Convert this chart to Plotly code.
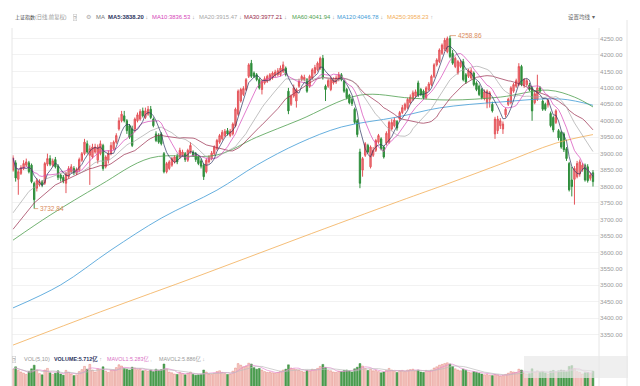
import plotly.graph_objects as go
import pandas as pd

# ---------------- data ----------------
opens = [3850,3872,3822,3840,3855,3865,3872,3865,3810,3795,3805,3815,3810,3868,3885,3865,3882,3862,3835,3828,
         3810,3830,3845,3855,3840,3850,3880,3900,3930,3895,3890,3905,3880,3900,3925,3860,3880,3900,3915,3935,
         3975,4000,4015,4000,3985,3975,3975,4000,4005,4030,4010,4020,4035,4005,3960,3955,3960,3900,3845,3855,
         3865,3875,3892,3890,3895,3900,3880,3905,3905,3900,3890,3878,3865,3845,3875,3885,3900,3915,3935,3945,
         3955,3970,3955,3960,3985,4020,4060,4080,4095,4135,4175,4145,4140,4125,4095,4115,4120,4125,4130,4138,
         4140,4140,4150,4160,4090,4050,4075,4060,4105,4125,4125,4125,4105,4130,4145,4155,4160,4190,4105,4105,
         4095,4115,4118,4125,4140,4120,4095,4078,4065,4035,4000,3905,3850,3895,3925,3860,3895,3910,3935,3945,
         3920,3932,3935,3975,3985,3998,4005,4025,4035,4040,4055,4065,4075,4115,4095,4090,4070,4095,4110,4135,
         4170,4180,4205,4218,4210,4250,4205,4165,4145,4165,4180,4140,4135,4130,4145,4115,4105,4095,4068,4055,
         4065,4050,3960,3970,3985,3975,4018,4050,4055,4090,4105,4110,4165,4108,4110,4108,4100,4055,4065,4100,
         4060,4050,4048,4022,4010,3995,3970,3965,3960,3915,3870,3820,3822,3830,3838,3852,3865,3860,3825,3842]
highs = [3895,3880,3850,3865,3880,3885,3878,3870,3815,3825,3822,3820,3875,3900,3895,3885,3890,3868,3840,3835,
         3845,3862,3868,3862,3858,3888,3905,3945,3940,3925,3930,3930,3928,3940,3930,3895,3910,3935,3940,3962,
         4010,4030,4030,4005,3990,3985,4010,4025,4035,4040,4040,4045,4045,4010,3968,3962,3965,3905,3875,3880,
         3890,3895,3900,3918,3912,3905,3915,3935,3910,3905,3895,3885,3870,3885,3895,3908,3925,3945,3960,3972,
         3975,3978,3975,3995,4040,4095,4100,4105,4130,4175,4185,4150,4145,4130,4125,4135,4140,4145,4150,4155,
         4160,4168,4180,4165,4100,4080,4110,4100,4128,4140,4140,4130,4140,4160,4170,4180,4195,4200,4110,4128,
         4135,4132,4138,4148,4145,4125,4100,4082,4070,4040,4005,3915,3890,3935,3930,3925,3920,3945,3960,3950,
         3925,3968,4000,4005,4010,4002,4030,4048,4055,4070,4080,4092,4095,4122,4100,4095,4105,4118,4140,4175,
         4190,4220,4235,4252,4256,4258.86,4215,4195,4185,4185,4188,4145,4158,4160,4150,4120,4110,4100,4095,4095,
         4090,4058,4012,4015,4008,3998,4040,4070,4105,4115,4128,4175,4170,4130,4128,4115,4105,4090,4140,4105,
         4065,4055,4068,4028,4015,4035,3975,3970,3965,3920,3875,3860,3862,3878,3882,3872,3870,3868,3842,3850]
lows = [3845,3815,3775,3835,3850,3860,3840,3810,3732.84,3785,3800,3798,3805,3862,3862,3860,3855,3820,3815,3810,
        3780,3825,3840,3835,3835,3845,3875,3895,3900,3805,3885,3900,3870,3895,3848,3855,3870,3895,3910,3930,
        3970,3995,3995,3960,3945,3920,3965,3995,4000,4010,4005,4015,4005,3980,3935,3930,3925,3840,3840,3850,
        3860,3870,3868,3885,3890,3875,3875,3900,3890,3875,3865,3855,3820,3840,3870,3880,3895,3910,3930,3940,
        3950,3955,3950,3955,3980,4015,4055,4075,4090,4130,4130,4130,4120,4095,4080,4110,4115,4120,4125,4132,
        4135,4135,4145,4135,4020,4045,4070,4040,4100,4120,4120,4085,4100,4125,4140,4150,4155,4125,4060,4100,
        4090,4110,4112,4120,4120,4085,4065,4050,4045,3990,3950,3795,3830,3890,3900,3855,3890,3905,3930,3910,
        3885,3925,3930,3970,3980,3970,4000,4020,4030,4035,4050,4060,4070,4072,4075,4065,4065,4090,4105,4130,
        4165,4175,4200,4212,4205,4190,4170,4160,4140,4160,4120,4112,4130,4125,4105,4090,4075,4065,4062,4038,
        4040,4025,3945,3960,3975,3960,4010,4045,4050,4085,4100,4105,4105,4100,4105,4090,4000,4050,4060,4085,
        4030,4030,4040,3980,3965,3990,3940,3915,3905,3878,3785,3770,3745,3825,3830,3845,3815,3812,3818,3800]
closes = [3887,3826,3845,3858,3870,3875,3845,3815,3760,3818,3815,3805,3870,3885,3868,3878,3860,3828,3825,3818,
          3840,3855,3860,3842,3852,3882,3900,3935,3905,3915,3920,3920,3920,3930,3855,3890,3900,3925,3935,3955,
          4000,4020,4000,3970,3950,3925,4005,4018,4028,4015,4030,4035,4010,3985,3940,3935,3930,3845,3870,3875,
          3885,3890,3875,3910,3905,3882,3910,3925,3895,3882,3870,3862,3830,3880,3890,3902,3920,3940,3955,3965,
          3968,3960,3968,3990,4035,4090,4095,4098,4125,4170,4135,4135,4125,4100,4120,4128,4135,4140,4145,4148,
          4152,4160,4170,4140,4030,4075,4100,4095,4120,4135,4132,4090,4135,4155,4162,4175,4190,4130,4095,4122,
          4128,4125,4130,4140,4125,4090,4070,4055,4052,3995,3958,3810,3885,3930,3905,3920,3910,3940,3955,3915,
          3890,3962,3995,3995,4002,3978,4025,4040,4050,4065,4072,4085,4088,4078,4080,4070,4100,4112,4135,4170,
          4185,4215,4230,4245,4250,4195,4175,4190,4180,4178,4125,4118,4152,4152,4110,4095,4080,4070,4088,4090,
          4085,4030,4005,4005,4000,3990,4035,4065,4100,4110,4122,4165,4110,4125,4122,4095,4030,4082,4100,4090,
          4035,4035,4062,3985,3972,4030,3948,3920,3912,3885,3790,3800,3855,3870,3875,3865,3820,3818,3835,3815]
volumes = [6.2,6.8,5.9,5.5,5.2,4.9,5.6,6.3,7.2,6.0, 5.1,4.8,6.0,6.4,5.3,4.9,5.2,5.8,5.0,4.7,
           5.9,5.4,5.0,4.6,4.8,5.6,6.1,6.9,6.2,7.4, 6.0,5.5,6.3,6.1,6.8,5.7,5.4,5.9,6.0,6.6,
           7.3,7.0,6.4,6.2,6.0,6.7,6.5,6.1,6.3,5.8, 5.9,5.7,6.0,5.6,6.2,5.9,6.1,7.5,6.2,5.5,
           5.3,5.0,4.9,5.4,5.1,4.8,5.2,5.5,4.9,4.7, 4.8,4.9,6.0,5.5,5.0,4.9,5.2,5.6,5.8,5.4,
           5.1,4.9,5.0,5.7,6.5,7.6,7.2,6.8,7.0,7.7, 7.5,6.6,6.2,6.4,6.0,5.6,5.4,5.5,5.3,5.2,
           5.4,5.7,6.0,6.2,7.3,6.5,6.3,6.1,6.0,5.7, 5.5,5.9,5.8,6.2,6.1,6.4,6.9,7.4,6.6,5.9,
           5.8,5.5,5.4,5.7,5.6,5.9,6.0,5.8,5.5,6.3, 6.7,7.6,7.0,6.4,5.9,6.2,5.8,5.9,5.6,5.3,
           5.5,5.9,6.4,6.0,5.7,5.4,5.8,5.9,5.6,6.0, 6.1,6.2,5.8,6.0,5.5,5.4,5.9,5.7,6.0,6.5,
           6.8,7.2,7.4,7.6,7.8,7.5,6.9,6.3,6.0,5.8, 6.2,5.9,5.5,5.3,5.6,5.4,5.2,5.0,4.8,4.9,
           4.7,4.6,4.9,4.8,4.5,4.6,4.9,5.2,5.6,5.5, 5.4,6.2,6.0,5.3,5.0,5.1,6.3,5.5,5.8,5.4,
           5.6,5.3,5.0,5.7,5.9,5.5,5.8,6.0,5.9,5.6, 6.9,7.1,6.3,5.6,5.4,5.0,5.3,5.4,5.1,5.712]

# moving-average values at the left edge (before a full window exists)
ma20_head_idx = [0, 6, 12]
ma20_head_val = [3720, 3785, 3822]
ma30_head_idx = [0, 8, 16, 24]
ma30_head_val = [3670, 3750, 3805, 3835]

# long moving averages (index, value)
ma60_idx = [0, 14, 33, 52, 77, 92, 108, 131, 150, 165, 184, 202, 212, 219]
ma60_val = [3637, 3713, 3805, 3887, 3896, 3950, 4002, 4078, 4069, 4063, 4072, 4093, 4072, 4042]
ma120_idx = [0, 18, 37, 56, 77, 92, 108, 124, 145, 161, 184, 207, 219]
ma120_val = [3431, 3501, 3607, 3704, 3789, 3865, 3932, 3981, 4011, 4039, 4057, 4066, 4047]
ma250_idx = [0, 33, 71, 108, 146, 165, 184, 205, 219]
ma250_val = [3318, 3419, 3531, 3643, 3756, 3811, 3868, 3932, 3958]

price_ticks = [3350, 3400, 3450, 3500, 3550, 3600, 3650, 3700, 3750, 3800, 3850, 3900,
               3950, 4000, 4050, 4100, 4150, 4200, 4250]

# ---------------- figure ----------------
idx = list(range(len(closes)))
s = pd.Series(closes)
ma5 = s.rolling(5, min_periods=1).mean()
ma10 = s.rolling(10, min_periods=1).mean()
ma20_full = s.rolling(20).mean()
ma30_full = s.rolling(30).mean()
ma20_x = ma20_head_idx + idx[19:]
ma20_y = ma20_head_val + list(ma20_full[19:])
ma30_x = ma30_head_idx + idx[29:]
ma30_y = ma30_head_val + list(ma30_full[29:])
v = pd.Series(volumes)
mavol1 = v.rolling(5, min_periods=1).mean()
mavol2 = v.rolling(10, min_periods=1).mean()

C_MA5 = '#2d3561'
C_MA10 = '#d545b8'
C_MA20 = '#a8a8a8'
C_MA30 = '#98294a'
C_MA60 = '#4f9f4f'
C_MA120 = '#3f9bd6'
C_MA250 = '#f3ad55'
LAT = 'Liberation Sans, Noto Sans CJK SC, sans-serif'

fig = go.Figure()

fig.add_trace(go.Candlestick(
    x=idx, open=opens, high=highs, low=lows, close=closes,
    increasing=dict(line=dict(color='#e4545a', width=1), fillcolor='#ee8286'),
    decreasing=dict(line=dict(color='#2f8e3c', width=1), fillcolor='#2f8e3c'),
    whiskerwidth=0, showlegend=False, hoverinfo='skip'))

def line(x, y, color, spline=False, width=0.8, yaxis='y'):
    fig.add_trace(go.Scatter(x=x, y=y, mode='lines', yaxis=yaxis,
                             line=dict(color=color, width=width,
                                       shape='spline' if spline else 'linear', smoothing=1.0),
                             hoverinfo='skip', showlegend=False))

line(ma250_idx, ma250_val, C_MA250, spline=True)
line(ma120_idx, ma120_val, C_MA120, spline=True)
line(ma60_idx, ma60_val, C_MA60, spline=True)
line(ma30_x, ma30_y, C_MA30, width=0.7)
line(ma20_x, ma20_y, C_MA20, width=0.7)
line(idx, ma10, C_MA10, width=0.7)
line(idx, ma5, C_MA5, width=0.7)

vol_fill = ['rgba(238,165,155,0.5)' if c >= o else '#4a9e4e' for o, c in zip(opens, closes)]
vol_line = ['rgba(222,105,95,0.75)' if c >= o else '#3d8f41' for o, c in zip(opens, closes)]
fig.add_trace(go.Bar(x=idx, y=volumes, yaxis='y2', width=0.7,
                     marker=dict(color=vol_fill, line=dict(color=vol_line, width=0.5)),
                     hoverinfo='skip', showlegend=False))
line(idx, mavol1, '#e58ad0', width=0.7, yaxis='y2')
line(idx, mavol2, '#bdbdbd', width=0.7, yaxis='y2')

W, H = 640, 386
fig.update_layout(
    width=W, height=H, margin=dict(l=0, r=0, t=0, b=0),
    paper_bgcolor='white', plot_bgcolor='white', showlegend=False,
    font=dict(family=LAT),
    xaxis=dict(domain=[12 / W, 599 / W], range=[-0.38, 221.27], showgrid=False, zeroline=False,
               showticklabels=False, ticks='', rangeslider=dict(visible=False), showline=False),
    yaxis=dict(domain=[(H - 352) / H, (H - 28) / H], range=[3297, 4282], side='right',
               tickvals=price_ticks, ticktext=['%.2f' % t for t in price_ticks],
               tickfont=dict(size=6.2, color='#9a9a9a', family=LAT),
               gridcolor='#f2f2f2', gridwidth=1, zeroline=False, showline=False, ticks=''),
    yaxis2=dict(domain=[0, 24 / H], range=[2, 8], anchor='x', showgrid=False,
                showticklabels=False, zeroline=False, ticks=''),
)

def ann(xpx, ypx, text, color='#666', size=5.9, **kw):
    fig.add_annotation(x=xpx / W, y=(H - ypx) / H, xref='paper', yref='paper', text=text,
                       showarrow=False, xanchor='left', yanchor='middle',
                       font=dict(size=size, color=color, family=LAT), **kw)

ARR_D = ' <span style="color:#aaa">↓</span>'
ARR_U = ' <span style="color:#aaa">↑</span>'
ty = 17
ann(13, ty, '上证指数', '#444', 5)
ann(33, ty, '(日线,前复权)', '#9a9a9a', 5.3)
ann(73, ty, '?', '#999', 5.3, bordercolor='#cccccc', borderwidth=0.6, borderpad=0)
ann(84, ty, '⚙', '#aaa', 6)
ann(94, ty, 'MA', '#777', 5.9)
ann(106, ty, '<b>MA5:3838.20</b>' + ARR_D, C_MA5)
ann(150, ty, 'MA10:3836.53' + ARR_D, C_MA10)
ann(197, ty, 'MA20:3915.47' + ARR_D, C_MA20)
ann(242, ty, 'MA30:3977.21' + ARR_D, C_MA30)
ann(290, ty, 'MA60:4041.94' + ARR_D, C_MA60)
ann(335, ty, 'MA120:4046.78' + ARR_D, C_MA120)
ann(385, ty, 'MA250:3958.23' + ARR_U, C_MA250)
ann(566, ty, '设置均线 ▾', '#666', 5.5)

vy = 359
ann(12, vy, '?', '#999', 5.3, bordercolor='#cccccc', borderwidth=0.6, borderpad=0)
ann(22, vy, 'VOL(5,10)', '#999', 5.6)
ann(52, vy, '<b>VOLUME:5.712亿</b>' + ARR_U, C_MA5, 5.4)
ann(105, vy, 'MAVOL1:5.283亿 <span style="color:#aaa">,</span>', '#d86fc4', 5.4)
ann(157, vy, 'MAVOL2:5.886亿' + ARR_D, '#9a9a9a', 5.4)

# extreme value markers
fig.add_annotation(x=8, y=3732.84, xref='x', yref='y', text='3732.84', showarrow=True,
                   arrowhead=0, arrowwidth=0.7, arrowcolor='#d98a5a', ax=4, ay=0,
                   xanchor='left', font=dict(size=6.5, color='#d98a5a', family=LAT))
fig.add_annotation(x=165, y=4258.86, xref='x', yref='y', text='4258.86', showarrow=True,
                   arrowhead=0, arrowwidth=0.7, arrowcolor='#d98a5a', ax=6, ay=0,
                   xanchor='left', font=dict(size=6.5, color='#d98a5a', family=LAT))

# frame lines
for xp, y0 in [(12, 28), (599, 28), (627, 20)]:
    fig.add_shape(type='line', xref='paper', yref='paper', x0=xp / W, x1=xp / W,
                  y0=0, y1=(H - y0) / H, line=dict(color='#e6e6e6', width=1))
# blurred watermark patch at bottom right
fig.add_shape(type='rect', xref='paper', yref='paper', x0=524 / W, x1=628 / W,
              y0=(H - 378) / H, y1=(H - 356) / H, fillcolor='rgba(232,232,232,0.7)',
              line=dict(width=0), layer='above')

fig.write_html('out.html')
